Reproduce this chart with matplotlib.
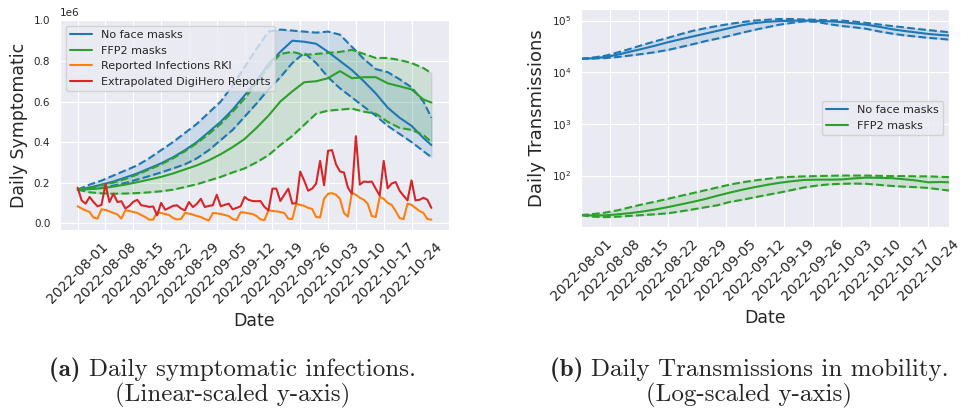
import numpy as np
import pandas as pd
import matplotlib
matplotlib.use("Agg")
import matplotlib.pyplot as plt
import matplotlib.dates as mdates
import seaborn as sns

sns.set_style("darkgrid")

# Dates (daily reports) and sampled days for the model curves
dates = pd.date_range("2022-08-01", "2022-10-29", freq="D")
model_days = [0, 3, 6, 9, 12, 15, 18, 21, 24, 27, 30, 33, 36, 39, 42, 45,
              48, 51, 54, 57, 60, 63, 66, 69, 72, 75, 78, 81, 84, 87, 89]
model_dates = dates[model_days]

SCALE = 1e6  # left plot values below are in millions

# (a) Daily symptomatic infections
nomask_mean = [.165, .175, .19, .205, .225, .245, .27, .295, .325, .36, .40, .45, .50, .56, .63, .70,
               .785, .845, .90, .895, .885, .845, .80, .755, .70, .64, .57, .52, .48, .42, .385]
nomask_high = [.165, .19, .21, .235, .26, .285, .32, .36, .40, .445, .49, .545, .60, .68, .77, .86,
               .945, .955, .95, .945, .94, .945, .93, .87, .81, .76, .745, .71, .67, .60, .52]
nomask_low = [.165, .168, .174, .185, .198, .215, .232, .25, .27, .29, .32, .36, .41, .46, .525, .59,
              .66, .72, .79, .84, .79, .72, .665, .62, .575, .53, .48, .44, .40, .355, .325]
ffp2_mean = [.165, .168, .172, .18, .19, .202, .215, .228, .245, .265, .285, .31, .34, .375, .415, .47,
             .53, .60, .65, .695, .70, .715, .75, .715, .72, .72, .69, .675, .66, .61, .595]
ffp2_high = [.165, .175, .188, .20, .218, .24, .265, .29, .32, .355, .395, .44, .49, .55, .615, .69,
             .77, .835, .845, .83, .835, .84, .845, .855, .835, .815, .815, .805, .79, .765, .74]
ffp2_low = [.165, .152, .147, .145, .146, .148, .152, .157, .165, .178, .192, .21, .228, .25, .27, .30,
            .335, .385, .43, .485, .54, .555, .56, .565, .55, .54, .50, .47, .46, .435, .40]

rki = [.083, .072, .063, .055, .027, .022, .068, .065, .058, .05, .043, .022, .063, .06, .055,
       .05, .04, .03, .017, .017, .054, .05, .045, .04, .025, .018, .02, .05, .047, .042,
       .035, .03, .02, .013, .05, .048, .045, .04, .035, .02, .015, .054, .052, .048, .045,
       .035, .018, .015, .063, .06, .058, .055, .05, .022, .02, .095, .09, .085, .075, .07,
       .03, .028, .12, .145, .148, .14, .12, .05, .032, .15, .14, .125, .115, .095, .035,
       .03, .13, .12, .10, .09, .06, .025, .02, .096, .09, .075, .06, .05, .02, .017]
digihero = [.175, .112, .096, .129, .104, .083, .09, .192, .104, .145, .104, .108, .072, .085, .105,
            .115, .088, .085, .08, .082, .038, .10, .066, .075, .085, .088, .072, .063, .104, .079,
            .095, .12, .079, .085, .088, .14, .083, .09, .096, .068, .075, .083, .129, .115, .109,
            .108, .109, .08, .063, .17, .17, .109, .14, .17, .096, .099, .254, .21, .16, .17,
            .195, .307, .187, .357, .36, .29, .255, .25, .175, .145, .429, .19, .205, .203, .205,
            .17, .136, .307, .172, .195, .203, .16, .135, .112, .211, .112, .115, .125, .115, .075]

# (b) Daily transmissions in mobility
tr_nomask_mean = [18200, 18600, 19700, 21900, 25100, 28500, 32700, 38000, 43200, 49000, 55600,
                  63100, 71600, 81300, 89100, 94400, 97700, 98900, 100000, 98900, 96600, 93300,
                  88100, 83200, 75900, 68400, 63100, 58900, 55000, 52500, 51300]
tr_nomask_high = [18200, 19300, 20900, 24300, 28500, 33900, 39800, 46200, 54300, 63100, 70800,
                  78500, 86100, 93300, 100000, 103500, 107200, 107200, 104700, 103500, 101200,
                  100000, 95500, 90200, 84100, 78500, 74100, 69200, 65300, 61700, 59600]
tr_nomask_low = [18200, 18400, 18800, 19700, 21100, 22600, 24500, 26900, 30500, 34700, 39800,
                 44700, 50700, 58200, 66100, 74100, 83200, 90200, 96600, 94400, 85100, 78500,
                 74100, 69200, 61700, 56200, 51900, 49000, 46200, 44200, 42700]
tr_ffp2_mean = [17.2, 16.9, 17.0, 17.8, 18.8, 20.2, 22.1, 24.5, 27.5, 30.9, 35.1, 40.7, 46.8, 53.1,
                59.6, 66.1, 72.4, 77.6, 82.2, 83.2, 83.2, 84.1, 88.1, 91.2, 90.2, 89.1, 85.1, 80.4,
                74.1, 75.0, 74.1]
tr_ffp2_high = [17.2, 18.0, 19.3, 21.4, 24.5, 27.9, 31.3, 35.5, 40.3, 45.7, 51.9, 58.9, 66.8, 74.1,
                80.4, 86.1, 92.3, 94.4, 96.6, 97.7, 98.9, 100.0, 100.0, 100.0, 98.9, 97.7, 97.7,
                96.6, 96.6, 94.4, 93.3]
tr_ffp2_low = [17.0, 16.0, 15.7, 16.0, 16.6, 17.2, 17.8, 18.6, 20.2, 22.1, 24.3, 26.6, 30.9, 33.9,
               38.0, 42.2, 46.8, 52.5, 58.9, 63.8, 67.6, 69.2, 70.0, 69.2, 66.1, 63.1, 61.0, 59.6,
               57.5, 53.7, 51.3]

blue, green, orange, red = "#1f77b4", "#2ca02c", "#ff7f0e", "#d62728"

fig = plt.figure(figsize=(9.72, 4.12), dpi=100)
ax1 = fig.add_axes([0.0617, 0.4417, 0.4003, 0.5097])
ax2 = fig.add_axes([0.5977, 0.4490, 0.3786, 0.5290])

# --- left: linear scale ---
m = lambda v: np.array(v) * SCALE
ax1.plot(model_dates, m(nomask_mean), color=blue, lw=1.5, label="No face masks")
ax1.plot(model_dates, m(nomask_high), color=blue, lw=1.5, ls="--")
ax1.plot(model_dates, m(nomask_low), color=blue, lw=1.5, ls="--")
ax1.fill_between(model_dates, m(nomask_low), m(nomask_high), color=blue, alpha=0.15)
ax1.plot(model_dates, m(ffp2_mean), color=green, lw=1.5, label="FFP2 masks")
ax1.plot(model_dates, m(ffp2_high), color=green, lw=1.5, ls="--")
ax1.plot(model_dates, m(ffp2_low), color=green, lw=1.5, ls="--")
ax1.fill_between(model_dates, m(ffp2_low), m(ffp2_high), color=green, alpha=0.15)
ax1.plot(dates, m(rki), color=orange, lw=1.5, label="Reported Infections RKI")
ax1.plot(dates, m(digihero), color=red, lw=1.5, label="Extrapolated DigiHero Reports")
ax1.set_ylabel("Daily Symptomatic", fontsize=12.5)
ax1.legend(loc="upper left", fontsize=8)

# --- right: log scale ---
ax2.plot(model_dates, tr_nomask_mean, color=blue, lw=1.5, label="No face masks")
ax2.plot(model_dates, tr_nomask_high, color=blue, lw=1.5, ls="--")
ax2.plot(model_dates, tr_nomask_low, color=blue, lw=1.5, ls="--")
ax2.fill_between(model_dates, tr_nomask_low, tr_nomask_high, color=blue, alpha=0.15)
ax2.plot(model_dates, tr_ffp2_mean, color=green, lw=1.5, label="FFP2 masks")
ax2.plot(model_dates, tr_ffp2_high, color=green, lw=1.5, ls="--")
ax2.plot(model_dates, tr_ffp2_low, color=green, lw=1.5, ls="--")
ax2.fill_between(model_dates, tr_ffp2_low, tr_ffp2_high, color=green, alpha=0.15)
ax2.set_yscale("log")
ax2.set_xlim(dates[0], dates[-1])
ax2.set_ylabel("Daily Transmissions", fontsize=13)
ax2.legend(loc="center right", fontsize=8)

for ax in (ax1, ax2):
    ax.set_xticks(dates[::7])
    ax.xaxis.set_major_formatter(mdates.DateFormatter("%Y-%m-%d"))
    ax.tick_params(axis="x", labelsize=10, rotation=45)
    ax.tick_params(axis="y", labelsize=7.5)
    ax.yaxis.get_offset_text().set_fontsize(7.5)
    ax.set_xlabel("Date", fontsize=12.5)

# captions: bold "(a)"/"(b)" followed by regular text, centred as one line
renderer = fig.canvas.get_renderer()
cap_size = 18


def caption(xc, y, tag, text):
    t1 = fig.text(0, y, tag + " ", family="cmb10", fontsize=cap_size, va="baseline")
    t2 = fig.text(0, y, text, family="cmr10", fontsize=cap_size, va="baseline")
    w1 = t1.get_window_extent(renderer).width / fig.bbox.width
    w2 = t2.get_window_extent(renderer).width / fig.bbox.width
    x0 = xc - (w1 + w2) / 2
    t1.set_x(x0)
    t2.set_x(x0 + w1)


caption(0.239, 0.087, "(a)", "Daily symptomatic infections.")
fig.text(0.239, 0.0246, "(Linear-scaled y-axis)", ha="center", va="baseline",
         family="cmr10", fontsize=cap_size)
caption(0.771, 0.087, "(b)", "Daily Transmissions in mobility.")
fig.text(0.771, 0.0246, "(Log-scaled y-axis)", ha="center", va="baseline",
         family="cmr10", fontsize=cap_size)

fig.savefig("out.png", dpi=100)
